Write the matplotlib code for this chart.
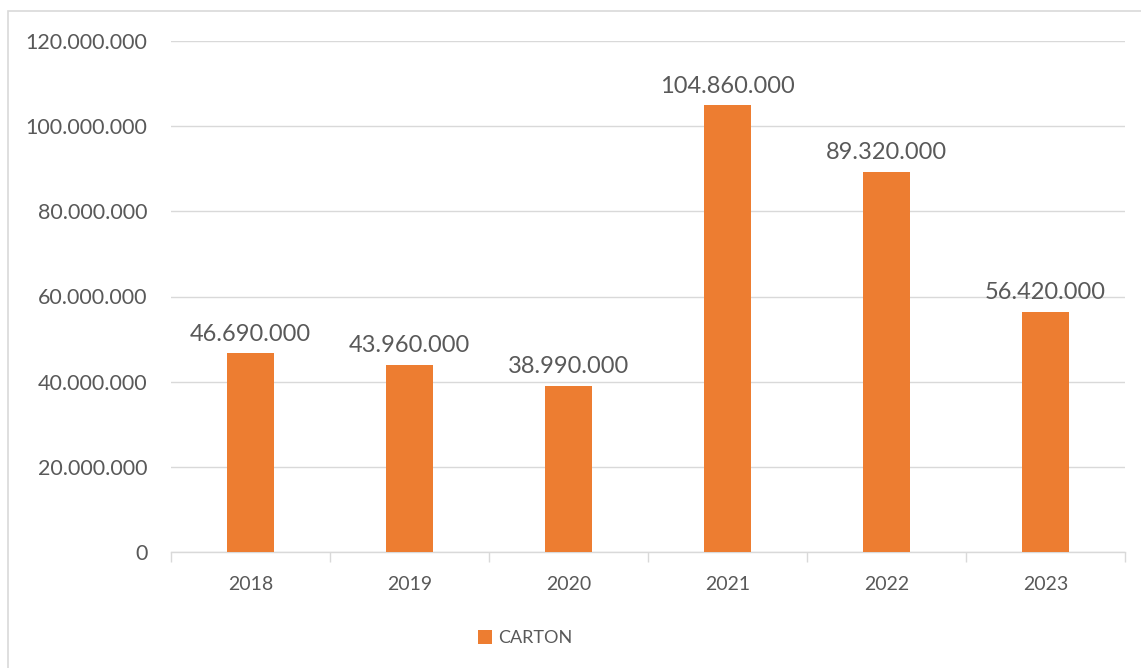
import matplotlib
matplotlib.use("Agg")
import matplotlib.pyplot as plt
from matplotlib.patches import Rectangle
from matplotlib.ticker import FuncFormatter, FixedLocator

years = ["2018", "2019", "2020", "2021", "2022", "2023"]
values = [46690000, 43960000, 38990000, 104860000, 89320000, 56420000]
series_name = "CARTON"

plt.rcParams['font.family'] = ['Lato', 'DejaVu Sans']

W, H = 1141, 668
fig = plt.figure(figsize=(W / 100, H / 100), dpi=100)
ax = fig.add_axes([171 / W, 1 - 552 / H, (1125 - 171) / W, (552 - 41) / H])

text_color = "#595959"
grid_color = "#D9D9D9"
bar_color = "#ED7D31"

def fmt(v, pos=None):
    return f"{int(v):,}".replace(",", ".")

x = list(range(len(years)))
bars = ax.bar(x, values, width=0.29, color=bar_color, label=series_name, zorder=3)

for xi, v in zip(x, values):
    ax.text(xi, v + 2000000, fmt(v), ha="center", va="bottom", fontsize=17, color=text_color)

ax.set_xlim(-0.5, len(years) - 0.5)
ax.set_ylim(0, 120000000)
ax.set_yticks(range(0, 120000001, 20000000))
ax.yaxis.set_major_formatter(FuncFormatter(fmt))
ax.grid(axis="y", color=grid_color, linewidth=1, zorder=0)
ax.set_axisbelow(True)

ax.set_xticks(x)
ax.set_xticklabels(years)
ax.xaxis.set_minor_locator(FixedLocator([i - 0.5 for i in range(len(years) + 1)]))
ax.tick_params(axis="x", which="major", length=0, pad=17, labelsize=14, labelcolor=text_color)
ax.tick_params(axis="x", which="minor", length=7, color=grid_color, width=1)
ax.tick_params(axis="y", length=0, pad=17, labelsize=15.5, labelcolor=text_color)

for s in ["top", "right", "left"]:
    ax.spines[s].set_visible(False)
ax.spines["bottom"].set_color(grid_color)
ax.spines["bottom"].set_linewidth(1)

leg = fig.legend(handles=[bars], labels=[series_name], loc="center",
                 bbox_to_anchor=(525 / W, 1 - 638 / H), frameon=False,
                 fontsize=13, handlelength=0.8, handleheight=0.8, handletextpad=0.3)
for t in leg.get_texts():
    t.set_color(text_color)

fig.patches.append(Rectangle((8 / W, -0.1), 1.2, 1 - 11 / H + 0.1, transform=fig.transFigure,
                             fill=False, edgecolor=grid_color, linewidth=1.2, figure=fig))

fig.savefig("out.png", dpi=100, facecolor="white")
